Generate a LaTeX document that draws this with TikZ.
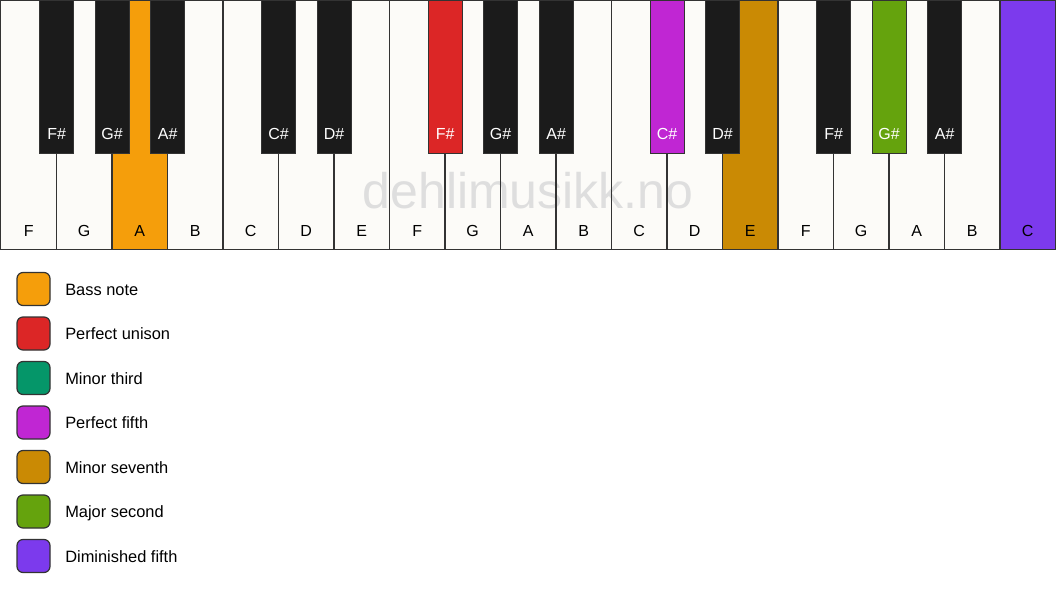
\documentclass[tikz,border=0pt]{standalone}
\usepackage{fontspec}
\setmainfont{Liberation Sans}
\usetikzlibrary{positioning}
\definecolor{keywhite}{HTML}{FCFBF8}
\definecolor{keyblack}{HTML}{1B1B1B}
\definecolor{keyline}{HTML}{333333}
\definecolor{bassnote}{HTML}{F59E0B}
\definecolor{unison}{HTML}{DC2626}
\definecolor{minthird}{HTML}{059669}
\definecolor{perffifth}{HTML}{C026D3}
\definecolor{minseventh}{HTML}{CA8A04}
\definecolor{majsecond}{HTML}{65A30D}
\definecolor{dimfifth}{HTML}{7C3AED}
\definecolor{markgray}{HTML}{DEDEDE}

\begin{document}
\begin{tikzpicture}[x=1pt,y=-1pt,
    whitekey/.style={rectangle,inner sep=0pt,minimum width=55.5pt,minimum height=249pt,anchor=north west},
    blackkey/.style={rectangle,draw=keyline,line width=1.2pt,inner sep=0pt,minimum width=34pt,minimum height=153pt,anchor=north},
    keylabel/.style={font=\fontsize{16}{19}\selectfont,anchor=base,inner sep=0pt},
    legendbox/.style={draw=keyline,line width=1.2pt,rounded corners=6pt,inner sep=0pt,minimum width=33pt,minimum height=33pt},
    legendtext/.style={font=\fontsize{16.4}{19}\selectfont,anchor=base west,inner sep=0pt}]
  \useasboundingbox[fill=white] (0,0) rectangle (1056,594);

  \foreach \n/\c [count=\i from 0] in {F/keywhite,G/keywhite,A/bassnote,B/keywhite,C/keywhite,D/keywhite,E/keywhite,F/keywhite,G/keywhite,A/keywhite,B/keywhite,C/keywhite,D/keywhite,E/minseventh,F/keywhite,G/keywhite,A/keywhite,B/keywhite,C/dimfifth} {
    \node[whitekey,fill=\c] (w\i) at (0.75+55.5*\i,0) {};
    \node[keylabel] (wl\i) at ([yshift=13pt]w\i.south) {\n};
  }

  \node[font=\fontsize{50}{54}\selectfont,text=markgray] (mark) at (528,191) {dehlimusikk.no};

  \foreach \i in {0,...,18}
    \draw[keyline,line width=1.2pt] (w\i.north west) rectangle (w\i.south east);

  \foreach \i/\n/\c in {0/F\#/keyblack,1/G\#/keyblack,2/A\#/keyblack,4/C\#/keyblack,5/D\#/keyblack,7/F\#/unison,8/G\#/keyblack,9/A\#/keyblack,11/C\#/perffifth,12/D\#/keyblack,14/F\#/keyblack,15/G\#/majsecond,16/A\#/keyblack} {
    \node[blackkey,fill=\c] (b\i) at (w\i.north east) {};
    \node[keylabel,text=white] (bl\i) at ([yshift=15pt]b\i.south) {\n};
  }

  \foreach \t/\c [count=\k from 0] in {Bass note/bassnote,Perfect unison/unison,Minor third/minthird,Perfect fifth/perffifth,Minor seventh/minseventh,Major second/majsecond,Diminished fifth/dimfifth} {
    \node[legendbox,fill=\c] (lg\k) at (33.5,289+44.5*\k) {};
    \node[legendtext] (lt\k) at ([xshift=14.5pt,yshift=-6pt]lg\k.east) {\t};
  }
\end{tikzpicture}
\end{document}
